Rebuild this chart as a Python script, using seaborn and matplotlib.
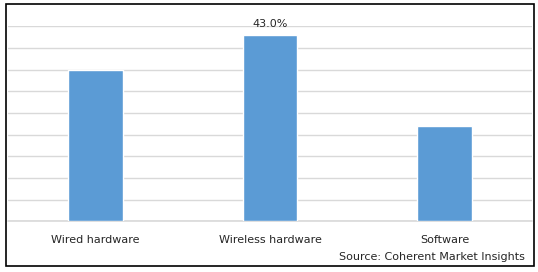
import matplotlib
matplotlib.use("Agg")
import matplotlib.pyplot as plt
import seaborn as sns
import pandas as pd
from matplotlib.patches import Rectangle

categories = ["Wired hardware", "Wireless hardware", "Software"]
shares = [35.0, 43.0, 22.0]
bar_labels = ["", "43.0%", ""]
source_text = "Source: Coherent Market Insights"

sns.set_theme(style="white")
plt.rcParams['font.family'] = ['DejaVu Sans']

df = pd.DataFrame({"category": categories, "share": shares})

fig = plt.figure(figsize=(5.38, 2.72), dpi=100)
ax = fig.add_axes([8/538, 50.7/272, 524/538, 195/272])

sns.barplot(data=df, x="category", y="share", hue="category",
            palette=["#5B9BD5"] * 3, legend=False, width=0.313,
            saturation=1, ax=ax)

ax.set_ylim(0, 45)
ax.set_yticks(range(0, 46, 5))
ax.yaxis.grid(True, color="#D9D9D9", linewidth=1)
ax.axhline(0, color="#D9D9D9", linewidth=1.2, clip_on=False, zorder=0.5)
ax.set_axisbelow(True)
ax.tick_params(axis="y", left=False, labelleft=False)
ax.tick_params(axis="x", bottom=False, labelsize=8, colors="#262626", pad=4)
for s in ax.spines.values():
    s.set_visible(False)
ax.set_xlabel("")
ax.set_ylabel("")

for i, (v, lab) in enumerate(zip(shares, bar_labels)):
    if lab:
        ax.annotate(lab, (i, v), xytext=(0, 4), textcoords="offset points",
                    ha="center", va="bottom", fontsize=8, color="#262626",
                    annotation_clip=False)

fig.text(524.7/538, 1 - 256.7/272, source_text, ha="right", va="center",
         fontsize=8, color="#262626")

fig.patches.append(Rectangle((6/538, 1 - 266.3/272), (533.7 - 6)/538, (266.3 - 4)/272,
                             transform=fig.transFigure, fill=False,
                             edgecolor="black", linewidth=1.2))

fig.savefig("out.png", dpi=100)
